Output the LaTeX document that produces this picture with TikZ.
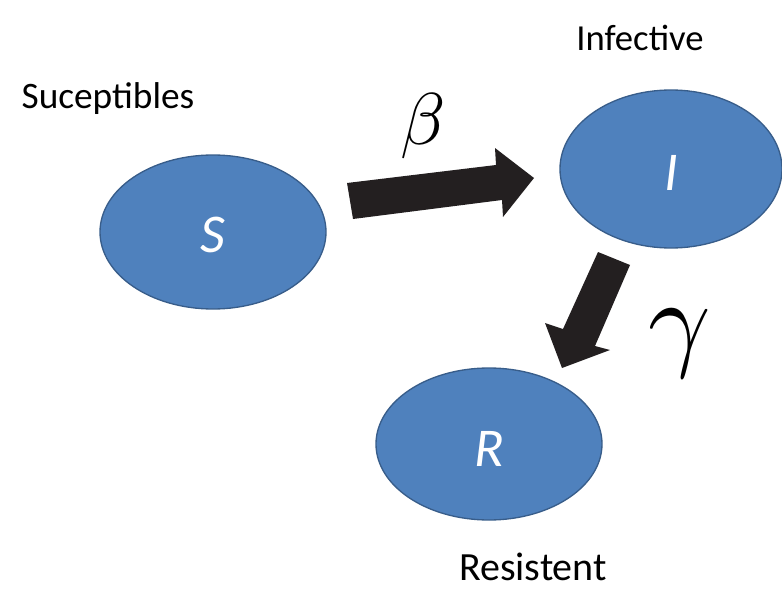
\documentclass[tikz,border=0pt]{standalone}
\usepackage{graphicx}
\usepackage{fontspec}
\setmainfont{Carlito}
\usetikzlibrary{shapes.geometric}
\definecolor{nodeblue}{HTML}{4F81BD}
\definecolor{nodeedge}{HTML}{385D8A}
\definecolor{arrowblack}{HTML}{231F20}
\tikzset{
  state/.style={ellipse, fill=nodeblue, draw=nodeedge, line width=1pt, inner sep=0pt,
    text=white, font=\fontsize{41}{41}\selectfont\itshape},
  lab/.style={font=\fontsize{28}{32}\selectfont, text=black, inner sep=0pt},
  blockarrow/.style={fill=arrowblack, draw=none},
  greek/.style={inner sep=0pt}
}
\begin{document}
\begin{tikzpicture}[x=0.75pt,y=-0.75pt]
\useasboundingbox (0,0) rectangle (782,592);
\node[state, minimum width=226*0.75pt, minimum height=154*0.75pt] (S) at (213,232) {};
\node[state, minimum width=222*0.75pt, minimum height=158*0.75pt] (I) at (671,169) {};
\node[state, minimum width=226*0.75pt, minimum height=152*0.75pt] (R) at (489,444) {};
\node[state, draw=none, fill=none, anchor=base] (Sl) at (213,252) {S};
\node[state, draw=none, fill=none, anchor=base] (Il) at (671,190) {I};
\node[state, draw=none, fill=none, anchor=base] (Rl) at (489,466) {R};
\node[lab] (ls) at (108,99) {Suceptibles};
\node[lab, font=\fontsize{27.5}{32}\selectfont] (li) at (640,38) {Infective};
\node[lab, font=\fontsize{30}{36}\selectfont, anchor=base] (lr) at (533,580) {Resistent};
\node[greek] (beta) at (423,126) {\scalebox{5.5}{$\beta$}};
\node[greek] (gamma) at (680,344) {\scalebox{8.2}{$\gamma$}};
\fill[blockarrow] (347,183) -- (496,165) -- (495,148) -- (534,178) -- (503,217) -- (502,200) -- (353,219) -- cycle;
\fill[blockarrow] (598,252) -- (630,265) -- (595,346) -- (610,350) -- (562,368) -- (545,323) -- (563,329) -- cycle;
\end{tikzpicture}
\end{document}
